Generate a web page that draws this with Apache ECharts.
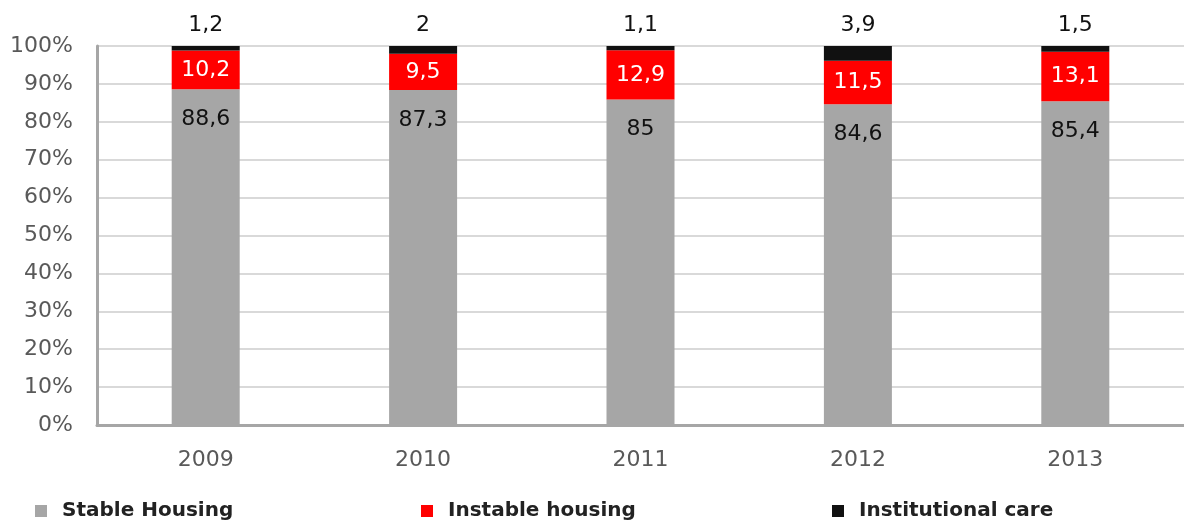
<!DOCTYPE html>
<html lang="en">
<head>
    <meta charset="UTF-8">
    <script src="https://cdn.jsdelivr.net/npm/echarts@6.0.0/dist/echarts.min.js"></script>
    <title>Housing</title>
    <style>
        html, body { margin: 0; padding: 0; background: #fff; }
        #chart { width: 1184px; height: 521px; }
    </style>
</head>
<body>
    <div id="chart"></div>
    <script type="text/javascript">
        var years = ['2009', '2010', '2011', '2012', '2013'];
        var stable = [88.6, 87.3, 85, 84.6, 85.4];
        var instable = [10.2, 9.5, 12.9, 11.5, 13.1];
        var institutional = [1.2, 2, 1.1, 3.9, 1.5];
        var names = ['Stable Housing', 'Instable housing', 'Institutional care'];

        // 100% stacked: each bar is scaled to its own total, labels keep the read value
        function share(arr) {
            return arr.map(function (v, i) {
                var total = stable[i] + instable[i] + institutional[i];
                return { value: v / total * 100, raw: v };
            });
        }
        function fmt(p) {
            return String(p.data.raw).replace('.', ',');
        }

        var chart = echarts.init(document.getElementById('chart'));
        var labelFont = 'DejaVu Sans';

        var legendBase = {
            bottom: 0,
            padding: 0,
            icon: 'rect',
            itemWidth: 12,
            itemHeight: 12,
            textStyle: {
                fontFamily: 'DejaVu Sans',
                fontWeight: 'bold',
                fontSize: 20,
                color: '#222',
                padding: [0, 0, 0, 10]
            }
        };

        var option = {
            animation: false,
            legend: [
                Object.assign({}, legendBase, { left: 35, data: [names[0]] }),
                Object.assign({}, legendBase, { left: 421, data: [names[1]] }),
                Object.assign({}, legendBase, { left: 832, data: [names[2]] })
            ],
            grid: { left: 97, right: -6, top: 46, bottom: 96 },
            xAxis: {
                type: 'category',
                data: years,
                axisLine: { lineStyle: { color: '#a6a6a6', width: 3 } },
                axisTick: { show: false },
                axisLabel: { fontFamily: labelFont, fontSize: 22, color: '#595959', margin: 24 }
            },
            yAxis: {
                type: 'value',
                min: 0,
                max: 100,
                interval: 10,
                axisLine: { show: true, lineStyle: { color: '#a6a6a6', width: 3 } },
                axisTick: { show: false },
                axisLabel: { formatter: '{value}%', fontFamily: labelFont, fontSize: 22, color: '#595959', margin: 24 },
                splitLine: { lineStyle: { color: '#d9d9d9', width: 2 } }
            },
            series: [
                {
                    name: names[0],
                    type: 'bar',
                    stack: 'all',
                    barWidth: 68,
                    itemStyle: { color: '#a6a6a6' },
                    label: {
                        show: true, position: 'insideTop', distance: 19, formatter: fmt,
                        fontFamily: labelFont, fontSize: 22, color: '#111'
                    },
                    data: share(stable)
                },
                {
                    name: names[1],
                    type: 'bar',
                    stack: 'all',
                    itemStyle: { color: '#ff0000' },
                    label: {
                        show: true, position: 'inside', formatter: fmt,
                        fontFamily: labelFont, fontSize: 22, color: '#fff'
                    },
                    data: share(instable)
                },
                {
                    name: names[2],
                    type: 'bar',
                    stack: 'all',
                    itemStyle: { color: '#111111' },
                    label: {
                        show: true, position: 'top', distance: 10, formatter: fmt,
                        fontFamily: labelFont, fontSize: 22, color: '#111'
                    },
                    data: share(institutional)
                }
            ]
        };
        chart.setOption(option);
    </script>
</body>
</html>
